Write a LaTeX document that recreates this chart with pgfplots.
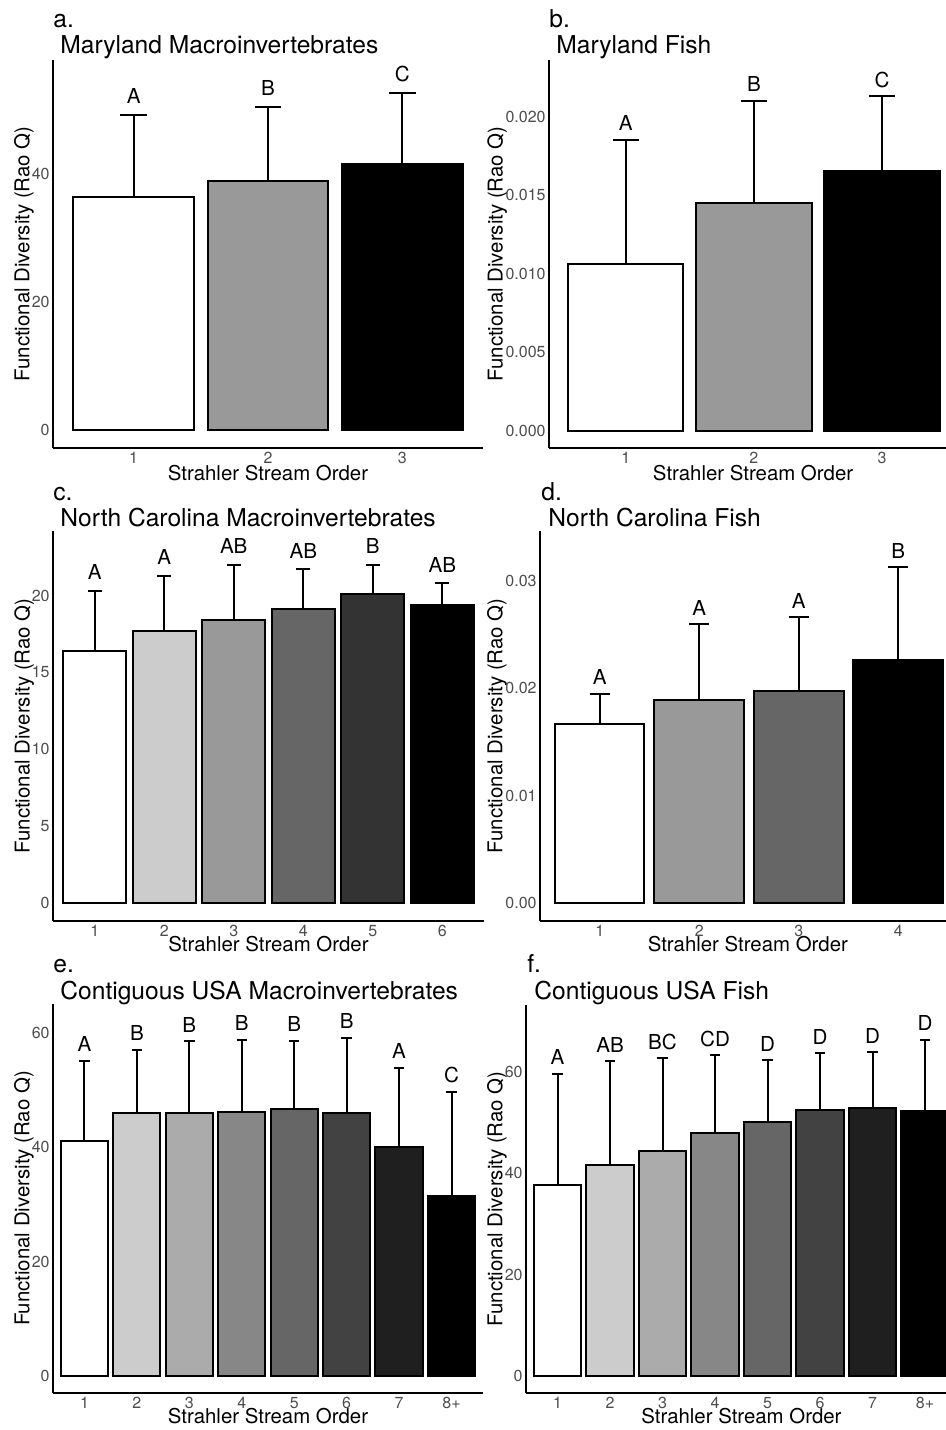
\documentclass[border=0pt]{standalone}
\usepackage{fontspec}
\setmainfont{TeX Gyre Heros}
\usepackage{pgfplots}
\pgfplotsset{compat=1.18}
\definecolor{tickgray}{HTML}{4D4D4D}
\newcommand\fs[1]{\fontsize{#1}{#1}\selectfont}

\pgfplotsset{
  panel/.style={
    scale only axis, anchor=south west, clip=false,
    axis x line*=bottom, axis y line*=left,
    axis line style={-, line width=1.3pt, black},
    tick style={draw=none},
    scaled y ticks=false,
    xlabel={Strahler Stream Order},
    ylabel={Functional Diversity (Rao Q)},
    every axis x label/.style={at={(axis description cs:0.5,0)}, anchor=base, font=\fs{10.2}},
    every axis y label/.style={at={(axis description cs:-0.0547,0.5)}, rotate=90, anchor=base, font=\fs{10.2}},
    xticklabel style={inner sep=0pt, yshift=-2pt, font=\fs{8}, text=tickgray},
    yticklabel style={inner sep=0pt, xshift=-1.5pt, font=\fs{8}, text=tickgray},
  },
  ylab/.style={every axis y label/.append style={at={(axis description cs:#1,0.5)}}},
  xlab/.style 2 args={every axis x label/.append style={at={(axis description cs:#1,0)}, yshift=#2}},
  cap/.style={every axis plot/.append style={error bars/error mark options={rotate=90, black, line width=1pt, mark size=#1}}},
  bar/.style={ybar, bar shift=0pt, bar width=0.9, fill=#1, draw=black, line width=1pt,
    error bars/.cd, y dir=plus, y explicit, error bar style={line width=1pt, black}},
  labels/.style={only marks, mark=none, point meta=explicit symbolic, nodes near coords,
    nodes near coords style={anchor=base, inner sep=0pt, yshift=#1, font=\fs{10.3}, text=black}},
}

\begin{document}
\begin{tikzpicture}
\useasboundingbox (0pt,0pt) rectangle (473pt,715pt);
\clip (0pt,0pt) rectangle (473pt,715pt);

% a. Maryland Macroinvertebrates
\begin{axis}[panel, at={(26.5pt,491pt)}, width=215pt, height=194pt,
  xmin=0.4, xmax=3.6, ymin=-2.8, ymax=57.8,
  xtick={1,2,3}, xticklabels={1,2,3}, ytick={0,20,40}, yticklabels={0,20,40},
  ylab=-0.0547, xlab={0.5}{-16.5pt}, cap=6.7pt]
\addplot[bar=white] coordinates {(1,36.4) +- (0,12.8)};
\addplot[bar=black!40] coordinates {(2,38.9) +- (0,11.6)};
\addplot[bar=black] coordinates {(3,41.6) +- (0,11.1)};
\addplot[labels=5.8pt] coordinates {(1,49.2)[A] (2,50.5)[B] (3,52.7)[C]};
\end{axis}

% b. Maryland Fish
\begin{axis}[panel, at={(274.5pt,491pt)}, width=198.5pt, height=194pt,
  xmin=0.4, xmax=3.5, ymin=-0.0011, ymax=0.0236,
  xtick={1,2,3}, xticklabels={1,2,3},
  ytick={0,0.005,0.010,0.015,0.020}, yticklabels={0.000,0.005,0.010,0.015,0.020},
  ylab=-0.1171, xlab={0.514}{-16.5pt}, cap=6.4pt]
\addplot[bar=white] coordinates {(1,0.01064) +- (0,0.00789)};
\addplot[bar=black!40] coordinates {(2,0.01452) +- (0,0.00648)};
\addplot[bar=black] coordinates {(3,0.01656) +- (0,0.00474)};
\addplot[labels=4.5pt] coordinates {(1,0.01853)[A] (2,0.0210)[B] (3,0.0213)[C]};
\end{axis}

% c. North Carolina Macroinvertebrates
\begin{axis}[panel, at={(26.5pt,254.5pt)}, width=215.5pt, height=195pt,
  xmin=0.4, xmax=6.6, ymin=-1.17, ymax=24.2,
  xtick={1,...,6}, xticklabels={1,2,3,4,5,6},
  ytick={0,5,10,15,20}, yticklabels={0,5,10,15,20},
  ylab=-0.0545, xlab={0.5}{-15.5pt}, cap=3.5pt]
\addplot[bar=white] coordinates {(1,16.4) +- (0,3.9)};
\addplot[bar=black!20] coordinates {(2,17.7) +- (0,3.6)};
\addplot[bar=black!40] coordinates {(3,18.4) +- (0,3.6)};
\addplot[bar=black!60] coordinates {(4,19.1) +- (0,2.6)};
\addplot[bar=black!80] coordinates {(5,20.1) +- (0,1.9)};
\addplot[bar=black] coordinates {(6,19.4) +- (0,1.4)};
\addplot[labels=5.5pt] coordinates {(1,20.3)[A] (2,21.3)[A] (3,22.0)[AB] (4,21.7)[AB] (5,22.0)[B] (6,20.8)[AB]};
\end{axis}

% d. North Carolina Fish
\begin{axis}[panel, at={(270pt,254.5pt)}, width=203pt, height=195pt,
  xmin=0.4, xmax=4.48, ymin=-0.00168, ymax=0.03467,
  xtick={1,2,3,4}, xticklabels={1,2,3,4},
  ytick={0,0.01,0.02,0.03}, yticklabels={0.00,0.01,0.02,0.03},
  ylab=-0.0924, xlab={0.512}{-15.5pt}, cap=5pt]
\addplot[bar=white] coordinates {(1,0.01668) +- (0,0.0028)};
\addplot[bar=black!40] coordinates {(2,0.01892) +- (0,0.00708)};
\addplot[bar=black!60] coordinates {(3,0.01976) +- (0,0.00689)};
\addplot[bar=black] coordinates {(4,0.02265) +- (0,0.00865)};
\addplot[labels=4.5pt] coordinates {(1,0.01948)[A] (2,0.0260)[A] (3,0.02665)[A] (4,0.0313)[B]};
\end{axis}

% e. Contiguous USA Macroinvertebrates
\begin{axis}[panel, at={(26.5pt,18.5pt)}, width=215pt, height=194.5pt,
  xmin=0.4, xmax=8.6, ymin=-3.0, ymax=65.1,
  xtick={1,...,8}, xticklabels={1,2,3,4,5,6,7,8+},
  ytick={0,20,40,60}, yticklabels={0,20,40,60},
  ylab=-0.0547, xlab={0.5}{-15.5pt}, cap=2.6pt]
\addplot[bar=white] coordinates {(1,41.1) +- (0,14.1)};
\addplot[bar=black!20] coordinates {(2,46.0) +- (0,11.1)};
\addplot[bar=black!33] coordinates {(3,46.0) +- (0,12.6)};
\addplot[bar=black!47] coordinates {(4,46.2) +- (0,12.6)};
\addplot[bar=black!60] coordinates {(5,46.8) +- (0,11.9)};
\addplot[bar=black!74] coordinates {(6,46.0) +- (0,13.2)};
\addplot[bar=black!88] coordinates {(7,40.0) +- (0,13.9)};
\addplot[bar=black] coordinates {(8,31.4) +- (0,18.3)};
\addplot[labels=4.5pt] coordinates {(1,55.2)[A] (2,57.1)[B] (3,58.6)[B] (4,58.8)[B] (5,58.7)[B] (6,59.2)[B] (7,53.9)[A] (8,49.7)[C]};
\end{axis}

% f. Contiguous USA Fish
\begin{axis}[panel, at={(263pt,18.5pt)}, width=210pt, height=194pt,
  xmin=0.4, xmax=8.4, ymin=-3.35, ymax=73.2,
  xtick={1,...,8}, xticklabels={1,2,3,4,5,6,7,8+},
  ytick={0,20,40,60}, yticklabels={0,20,40,60},
  ylab=-0.056, xlab={0.513}{-15.5pt}, cap=2.6pt]
\addplot[bar=white] coordinates {(1,37.7) +- (0,21.9)};
\addplot[bar=black!20] coordinates {(2,41.6) +- (0,20.5)};
\addplot[bar=black!33] coordinates {(3,44.4) +- (0,18.3)};
\addplot[bar=black!47] coordinates {(4,47.9) +- (0,15.4)};
\addplot[bar=black!60] coordinates {(5,50.1) +- (0,12.2)};
\addplot[bar=black!74] coordinates {(6,52.5) +- (0,11.2)};
\addplot[bar=black!88] coordinates {(7,52.9) +- (0,11.0)};
\addplot[bar=black] coordinates {(8,52.3) +- (0,14.0)};
\addplot[labels=4.5pt] coordinates {(1,59.6)[A] (2,62.1)[AB] (3,62.7)[BC] (4,63.3)[CD] (5,62.3)[D] (6,63.7)[D] (7,63.9)[D] (8,66.3)[D]};
\end{axis}

% panel letters and titles
\begin{scope}[every node/.style={anchor=base west, inner sep=0pt, font=\fs{12.3}}]
\node at (26.5pt,701pt) {a.};
\node at (30pt,688pt) {Maryland Macroinvertebrates};
\node at (274.5pt,701pt) {b.};
\node at (278pt,688pt) {Maryland Fish};
\node at (26.5pt,464.5pt) {c.};
\node at (30pt,451.5pt) {North Carolina Macroinvertebrates};
\node at (270.5pt,464.5pt) {d.};
\node at (274pt,451.5pt) {North Carolina Fish};
\node at (26.5pt,228.5pt) {e.};
\node at (30pt,215pt) {Contiguous USA Macroinvertebrates};
\node at (263.5pt,228.5pt) {f.};
\node at (267pt,215pt) {Contiguous USA Fish};
\end{scope}
\end{tikzpicture}
\end{document}
